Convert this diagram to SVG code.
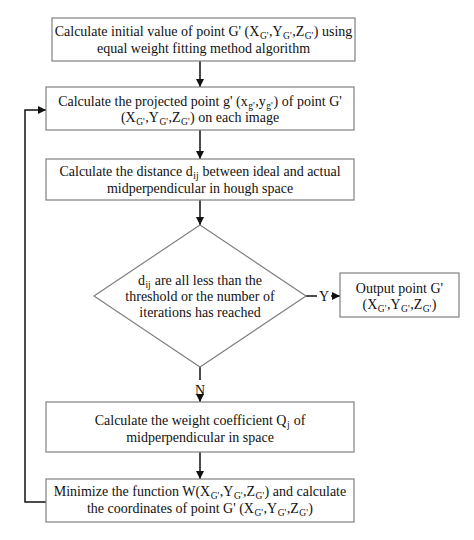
<svg xmlns="http://www.w3.org/2000/svg" width="474" height="540" viewBox="0 0 474 540">
<defs>
<style>
.box{fill:#fff;stroke:#808080;stroke-width:1.2}
.t{font-family:"Liberation Serif","Times New Roman",serif;font-size:14px;fill:#111;text-anchor:middle}
.s{font-size:9.5px;baseline-shift:-3px}
.c{fill:none;stroke:#111;stroke-width:1.5}
.lab{font-family:"Liberation Serif","Times New Roman",serif;font-size:14px;fill:#111;text-anchor:middle}
</style>
<marker id="ah" viewBox="0 0 10 10" refX="10" refY="5" markerWidth="8" markerHeight="8" markerUnits="userSpaceOnUse" orient="auto">
<path d="M0,0L10,5L0,10z" fill="#111"/>
</marker>
</defs>
<rect width="474" height="540" fill="#fff"/>
<g id="connectors">
<line class="c" x1="200" y1="61" x2="200" y2="87" marker-end="url(#ah)"/>
<line class="c" x1="200" y1="130" x2="200" y2="159" marker-end="url(#ah)"/>
<line class="c" x1="200" y1="200" x2="200" y2="225" marker-end="url(#ah)"/>
<line class="c" x1="305" y1="296" x2="317" y2="296"/>
<text class="lab" x="324" y="301">Y</text>
<line class="c" x1="331" y1="296" x2="340" y2="296" marker-end="url(#ah)"/>
<line class="c" x1="200" y1="367" x2="200" y2="380"/>
<text class="lab" x="200" y="395">N</text>
<line class="c" x1="200" y1="397" x2="200" y2="402" marker-end="url(#ah)"/>
<line class="c" x1="200" y1="452" x2="200" y2="479" marker-end="url(#ah)"/>
<polyline class="c" points="46,502 25,502 25,110 46,110" marker-end="url(#ah)"/>
</g>
<g id="n1">
<rect class="box" x="52" y="18" width="303" height="43"/>
<text class="t" x="203.5" y="36">Calculate initial value of point G' (X<tspan class="s" dx="0.5">G'</tspan><tspan dx="0.5">,Y</tspan><tspan class="s" dx="0.5">G'</tspan><tspan dx="0.5">,Z</tspan><tspan class="s" dx="0.5">G'</tspan><tspan dx="0.5">) using</tspan></text>
<text class="t" x="203.5" y="53">equal weight fitting method algorithm</text>
</g>
<g id="n2">
<rect class="box" x="46" y="87" width="308" height="43"/>
<text class="t" x="200" y="106">Calculate the projected point g' (x<tspan class="s" dx="0.5">g'</tspan><tspan dx="0.5">,y</tspan><tspan class="s" dx="0.5">g'</tspan><tspan dx="1">) of point G'</tspan></text>
<text class="t" x="200" y="122">(X<tspan class="s" dx="0.5">G'</tspan><tspan dx="0.5">,Y</tspan><tspan class="s" dx="0.5">G'</tspan><tspan dx="0.5">,Z</tspan><tspan class="s" dx="0.5">G'</tspan><tspan dx="0.5">) on each image</tspan></text>
</g>
<g id="n3">
<rect class="box" x="46" y="159" width="308" height="41"/>
<text class="t" x="200" y="176">Calculate the distance d<tspan class="s" dx="0.5">ij</tspan><tspan dx="0.5"> between ideal and actual</tspan></text>
<text class="t" x="200" y="193">midperpendicular in hough space</text>
</g>
<g id="n4">
<polygon class="box" points="200,225 306,296 200,367 94,296"/>
<text class="t" x="200" y="285">d<tspan class="s" dx="0.5">ij</tspan><tspan dx="0.5"> are all less than the</tspan></text>
<text class="t" x="200" y="301">threshold or the number of</text>
<text class="t" x="200" y="317">iterations has reached</text>
</g>
<g id="n5">
<rect class="box" x="340" y="273" width="119" height="44"/>
<text class="t" x="399.5" y="293">Output point G'</text>
<text class="t" x="399.5" y="309">(X<tspan class="s" dx="0.5">G'</tspan><tspan dx="0.5">,Y</tspan><tspan class="s" dx="0.5">G'</tspan><tspan dx="0.5">,Z</tspan><tspan class="s" dx="0.5">G'</tspan><tspan dx="0.5">)</tspan></text>
</g>
<g id="n6">
<rect class="box" x="46" y="402" width="308" height="50"/>
<text class="t" x="200" y="425">Calculate the weight coefficient Q<tspan class="s" dx="0.5">j</tspan><tspan dx="0.5"> of</tspan></text>
<text class="t" x="200" y="442">midperpendicular in space</text>
</g>
<g id="n7">
<rect class="box" x="46" y="479" width="308" height="43"/>
<text class="t" x="200" y="496">Minimize the function W(X<tspan class="s" dx="0.5">G'</tspan><tspan dx="0.5">,Y</tspan><tspan class="s" dx="0.5">G'</tspan><tspan dx="0.5">,Z</tspan><tspan class="s" dx="0.5">G'</tspan><tspan dx="0.5">) and calculate</tspan></text>
<text class="t" x="200" y="513">the coordinates of point G' (X<tspan class="s" dx="0.5">G'</tspan><tspan dx="0.5">,Y</tspan><tspan class="s" dx="0.5">G'</tspan><tspan dx="0.5">,Z</tspan><tspan class="s" dx="0.5">G'</tspan><tspan dx="0.5">)</tspan></text>
</g>
</svg>
